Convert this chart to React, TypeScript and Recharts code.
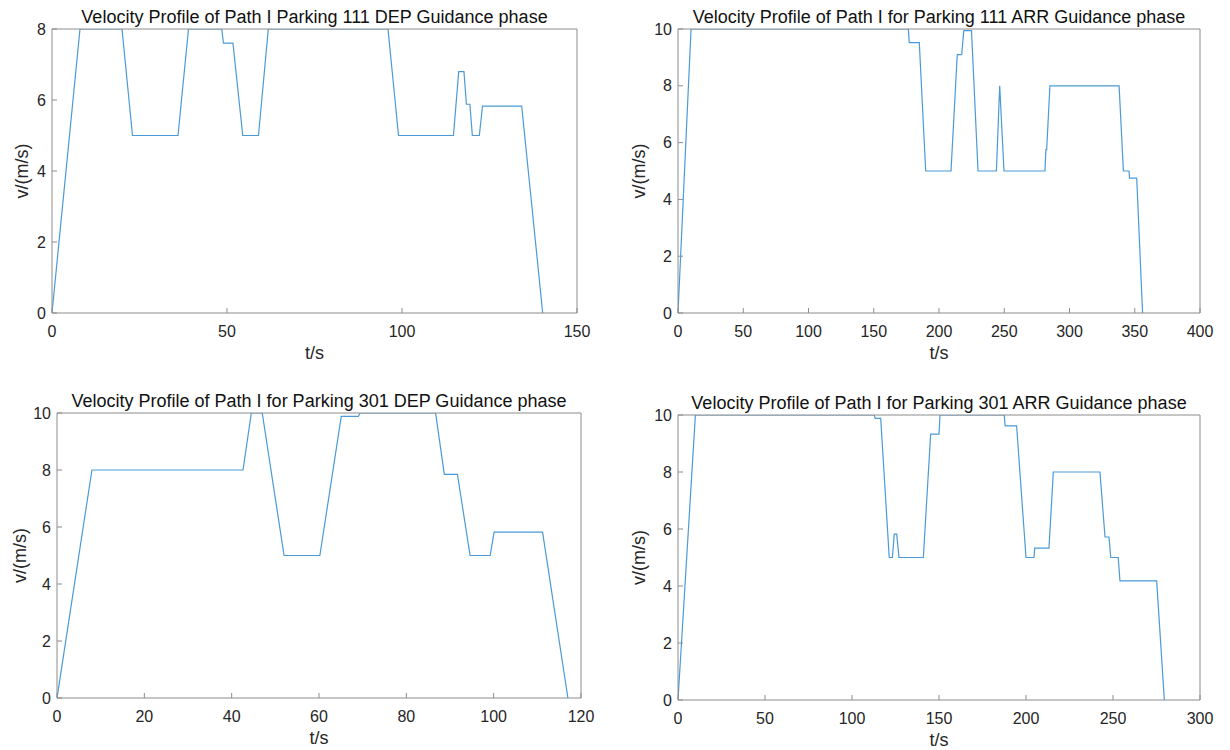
import { FC } from 'react'
import { Line, LineChart, XAxis, YAxis } from 'recharts'

// Path I, parking 111, departure
const dep111T = [0, 8, 20, 23, 36, 39, 48.5, 49, 51.7, 54.5, 59, 61.8, 96, 99, 114.7, 116.2, 117.7, 118.4, 119.4, 120.1, 122.1, 123, 134.2, 140.2]
const dep111V = [0, 8, 8, 5, 5, 8, 8, 7.6, 7.6, 5, 5, 8, 8, 5, 5, 6.8, 6.8, 5.88, 5.88, 5, 5, 5.83, 5.83, 0]

// Path I, parking 111, arrival
const arr111T = [0, 10, 176.5, 177.2, 184.9, 189.8, 209.2, 214, 217.4, 219, 224.9, 229.9, 244, 246.5, 249.8, 281.2, 281.9, 282.5, 285, 338, 341.3, 345.6, 346, 351.5, 356]
const arr111V = [0, 10, 10, 9.52, 9.52, 5, 5, 9.1, 9.1, 9.94, 9.94, 5, 5, 8, 5, 5, 5.75, 5.75, 8, 8, 5, 5, 4.75, 4.75, 0]

// Path I, parking 301, departure
const dep301T = [0, 8, 42.6, 44.5, 47, 52, 60.2, 65.1, 69, 69.4, 86.7, 88.7, 91.7, 94.6, 99.2, 100.1, 111.2, 117]
const dep301V = [0, 8, 8, 10, 10, 5, 5, 9.88, 9.88, 10, 10, 7.85, 7.85, 5, 5, 5.82, 5.82, 0]

// Path I, parking 301, arrival
const arr301T = [0, 10, 112.8, 113.3, 116.5, 121.4, 123.2, 124.3, 125.7, 127, 141, 145.2, 150, 150.6, 187.5, 188, 194.6, 200, 204.6, 205, 213.2, 215.7, 242.5, 245.4, 247.7, 248.7, 253, 254, 275.1, 279.5]
const arr301V = [0, 10, 10, 9.88, 9.88, 5, 5, 5.82, 5.82, 5, 5, 9.33, 9.33, 10, 10, 9.62, 9.62, 5, 5, 5.33, 5.33, 8, 8, 5.72, 5.72, 5, 5, 4.18, 4.18, 0]

const ticks150 = [0, 50, 100, 150]
const ticks400 = [0, 50, 100, 150, 200, 250, 300, 350, 400]
const ticks120 = [0, 20, 40, 60, 80, 100, 120]
const ticks300 = [0, 50, 100, 150, 200, 250, 300]
const ticksV8 = [0, 2, 4, 6, 8]
const ticksV10 = [0, 2, 4, 6, 8, 10]

const FONT = '"Liberation Sans", Arial, sans-serif'
const LINE_COLOR = '#4a9ad8'
const AXIS_COLOR = '#8c8c8c'
const TEXT_COLOR = '#262626'
const Y_W = 50
const X_H = 50

type PanelProps = {
  title: string
  t: number[]
  v: number[]
  xTicks: number[]
  yTicks: number[]
  box: { qx: number; qy: number; qw: number; qh: number; L: number; T: number; R: number; B: number }
  yLabelX: number
}

const Panel: FC<PanelProps> = ({ title, t, v, xTicks, yTicks, box, yLabelX }) => {
  const rows = t.map((tt, i) => ({ t: tt, v: v[i] }))
  const xDom: [number, number] = [xTicks[0], xTicks[xTicks.length - 1]]
  const yDom: [number, number] = [yTicks[0], yTicks[yTicks.length - 1]]
  const margin = {
    left: box.L - box.qx - Y_W,
    top: box.T - box.qy,
    right: box.qx + box.qw - box.R,
    bottom: box.qy + box.qh - box.B - X_H,
  }
  return (
    <div style={{ position: 'absolute', left: box.qx, top: box.qy }}>
      <LineChart width={box.qw} height={box.qh} data={rows} margin={margin} style={{ fontFamily: FONT }}>
        <XAxis
          xAxisId="b"
          type="number"
          dataKey="t"
          domain={xDom}
          ticks={xTicks}
          interval={0}
          allowDataOverflow
          height={X_H}
          stroke={AXIS_COLOR}
          tickSize={-5}
          tickMargin={18}
          tick={{ fill: TEXT_COLOR, fontSize: 16 }}
          label={{ value: 't/s', position: 'insideBottom', offset: 4, fill: TEXT_COLOR, fontSize: 18 }}
        />
        <XAxis
          xAxisId="t"
          orientation="top"
          mirror
          type="number"
          dataKey="t"
          domain={xDom}
          ticks={xTicks}
          interval={0}
          allowDataOverflow
          stroke={AXIS_COLOR}
          tickSize={5}
          tick={false}
          label={{ value: title, position: 'top', offset: 6, fill: '#111', fontSize: 18 }}
        />
        <YAxis
          yAxisId="l"
          type="number"
          domain={yDom}
          ticks={yTicks}
          interval={0}
          allowDataOverflow
          width={Y_W}
          stroke={AXIS_COLOR}
          tickSize={-5}
          tickMargin={11}
          tick={{ fill: TEXT_COLOR, fontSize: 16 }}
          label={{
            value: 'v/(m/s)',
            angle: -90,
            position: 'insideLeft',
            offset: yLabelX - (box.L - Y_W),
            fill: TEXT_COLOR,
            fontSize: 18,
            style: { textAnchor: 'middle' },
          }}
        />
        <YAxis
          yAxisId="r"
          orientation="right"
          mirror
          type="number"
          domain={yDom}
          ticks={yTicks}
          interval={0}
          allowDataOverflow
          stroke={AXIS_COLOR}
          tickSize={5}
          tick={false}
        />
        <Line
          xAxisId="b"
          yAxisId="l"
          type="linear"
          dataKey="v"
          stroke={LINE_COLOR}
          strokeWidth={1.2}
          dot={false}
          isAnimationActive={false}
        />
      </LineChart>
    </div>
  )
}

const App: FC = () => {
  return (
    <div style={{ position: 'absolute', left: 0, top: 0, width: 1230, height: 750, background: '#fff' }}>
      <Panel
        title="Velocity Profile of Path I Parking 111 DEP Guidance phase"
        t={dep111T}
        v={dep111V}
        xTicks={ticks150}
        yTicks={ticksV8}
        box={{ qx: 0, qy: 0, qw: 615, qh: 375, L: 52, T: 29, R: 577, B: 313 }}
        yLabelX={22}
      />
      <Panel
        title="Velocity Profile of Path I for Parking 111 ARR Guidance phase"
        t={arr111T}
        v={arr111V}
        xTicks={ticks400}
        yTicks={ticksV10}
        box={{ qx: 615, qy: 0, qw: 615, qh: 375, L: 678, T: 29, R: 1200, B: 313 }}
        yLabelX={639}
      />
      <Panel
        title="Velocity Profile of Path I for Parking 301 DEP Guidance phase"
        t={dep301T}
        v={dep301V}
        xTicks={ticks120}
        yTicks={ticksV10}
        box={{ qx: 0, qy: 375, qw: 615, qh: 375, L: 57, T: 413, R: 581, B: 698 }}
        yLabelX={20}
      />
      <Panel
        title="Velocity Profile of Path I for Parking 301 ARR Guidance phase"
        t={arr301T}
        v={arr301V}
        xTicks={ticks300}
        yTicks={ticksV10}
        box={{ qx: 615, qy: 375, qw: 615, qh: 375, L: 678, T: 415, R: 1200, B: 700 }}
        yLabelX={639}
      />
    </div>
  )
}

export default App
